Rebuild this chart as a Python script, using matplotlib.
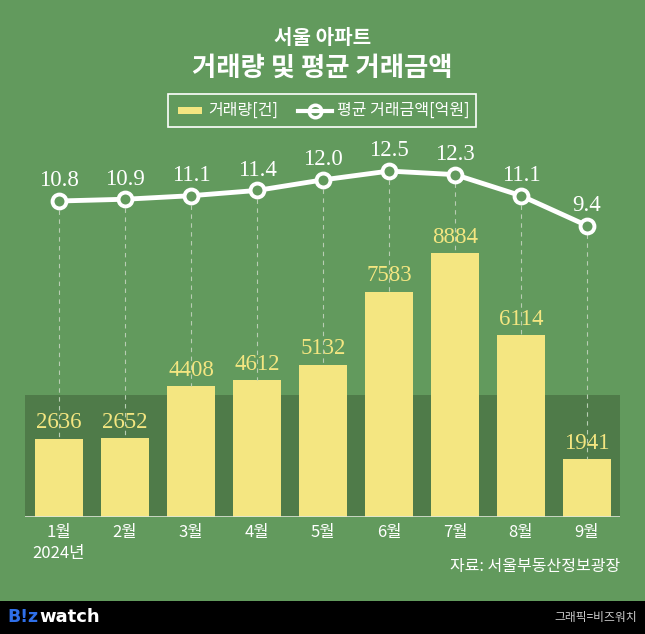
import matplotlib
matplotlib.use("Agg")
from matplotlib import pyplot as plt
from matplotlib.patches import Rectangle
import numpy as np

plt.rcParams['font.family'] = ['Noto Sans CJK KR', 'DejaVu Sans']

# Data
months = ['1월\n2024년', '2월', '3월', '4월', '5월', '6월', '7월', '8월', '9월']
volume = [2636, 2652, 4408, 4612, 5132, 7583, 8884, 6114, 1941]
avg_price = [10.8, 10.9, 11.1, 11.4, 12.0, 12.5, 12.3, 11.1, 9.4]

bg = '#629a5d'
band = '#4f7b49'
bar_color = '#f4e681'
W, H = 645, 634

fig = plt.figure(figsize=(W / 100, H / 100), dpi=100)
fig.patch.set_facecolor(bg)

# Main axes: pixel 25..620 horizontally, 517..140 vertically
left, right, bottom, top = 25, 620, 517, 140
ax = fig.add_axes([left / W, 1 - bottom / H, (right - left) / W, (bottom - top) / H])
ax.set_facecolor('none')
x = np.arange(len(months))
ax.set_xlim(-0.515, 8.5)
ax.set_ylim(0, (bottom - top) / 0.0297)

# dark band behind the lower part
ax.axhspan(0, (bottom - 395) / 0.0297, color=band, zorder=0, lw=0)

ax.bar(x, volume, width=0.72, color=bar_color, zorder=2)
for xi, v in zip(x, volume):
    ax.text(xi, v + 180, f'{v}', ha='center', va='bottom', color=bar_color,
            fontsize=16.5, family='Liberation Serif', zorder=3)

ax.axhline(0, color='#dfe6d8', lw=1.2, zorder=3)
for s in ax.spines.values():
    s.set_visible(False)
ax.set_yticks([])
ax.set_xticks(x)
ax.set_xticklabels(months, color='white', fontsize=12, linespacing=1.3,
                   fontweight='medium')
ax.tick_params(axis='x', length=0, pad=5)

# Line on twin axis
ax2 = ax.twinx()
ax2.set_ylim(10.8 - (bottom - 201) / 17.6, 10.8 + (201 - top) / 17.6)
ax2.set_yticks([])
for s in ax2.spines.values():
    s.set_visible(False)

# dashed guides from markers to bar tops
for xi, v, p in zip(x, volume, avg_price):
    top_in_ax2 = ax2.get_ylim()[0] + v * 0.0297 / 17.6
    ax2.plot([xi, xi], [p - 0.5, top_in_ax2], color='#b8cdb3', lw=0.8,
             ls=(0, (4, 4)), zorder=1)

ax2.plot(x, avg_price, color='white', lw=3.5, marker='o', ms=10,
         mfc=bg, mec='white', mew=2.8, zorder=4)
for xi, p in zip(x, avg_price):
    ax2.text(xi, p + 0.55, f'{p:.1f}', ha='center', va='bottom', color='white',
             fontsize=16.5, family='Liberation Serif', zorder=5)

# Title
fig.text(0.5, 1 - 38 / H, '서울 아파트', ha='center', va='center', color='white',
         fontsize=14.5, fontweight='bold')
fig.text(0.5, 1 - 68 / H, '거래량 및 평균 거래금액', ha='center', va='center',
         color='white', fontsize=19, fontweight='bold')

# Legend box
fig.patches.append(Rectangle((168 / W, 1 - 127 / H), (476 - 168) / W, 33 / H,
                             transform=fig.transFigure, fill=False,
                             ec='white', lw=1.2))
ly = 1 - 110.5 / H
fig.patches.append(Rectangle((178 / W, ly - 3 / H), 24 / W, 6 / H,
                             transform=fig.transFigure, color=bar_color, lw=0))
fig.text(208 / W, ly, '거래량[건]', ha='left', va='center', color='white', fontsize=11.5)
fig.lines.append(plt.Line2D([298 / W, 332 / W], [ly, ly], transform=fig.transFigure,
                            color='white', lw=3, zorder=5))
fig.lines.append(plt.Line2D([315 / W], [ly], transform=fig.transFigure,
                            marker='o', ms=9, mfc=bg, mec='white', mew=2.5, lw=0))
fig.text(337 / W, ly, '평균 거래금액[억원]', ha='left', va='center', color='white',
         fontsize=11.5)

# Source
fig.text(620 / W, 1 - 567 / H, '자료: 서울부동산정보광장', ha='right', va='center',
         color='white', fontsize=11.5)

# Footer bar
fig.patches.append(Rectangle((0, 0), 1, 33 / H, transform=fig.transFigure,
                             color='black', lw=0))
fig.text(7 / W, 1 - 617 / H, 'B!z', ha='left', va='center', color='#2f6fe8',
         fontsize=12.5, fontweight='bold', family='DejaVu Sans')
fig.text(39 / W, 1 - 617 / H, 'watch', ha='left', va='center', color='white',
         fontsize=13, fontweight='bold', family='DejaVu Sans')
fig.text(637 / W, 1 - 617 / H, '그래픽=비즈워치', ha='right', va='center',
         color='#cccccc', fontsize=8.5)

fig.savefig('out.png', dpi=100, facecolor=bg)
